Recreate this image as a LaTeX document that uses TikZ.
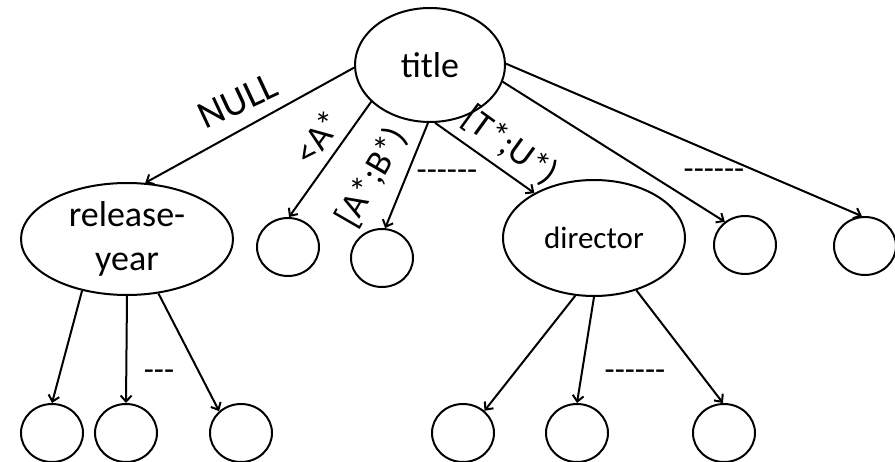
\documentclass[tikz,border=0pt]{standalone}
\usepackage{fontspec}
\setmainfont{Carlito}
\usetikzlibrary{shapes.geometric,arrows.meta}
\begin{document}
\begin{tikzpicture}[x=1pt,y=-1pt,
  every node/.style={inner sep=0pt},
  bigell/.style={draw,line width=2pt,ellipse,fill=white},
  leaf/.style={draw,line width=2pt,ellipse,minimum width=62pt,minimum height=58pt},
  conn/.style={line width=2pt,-{Straight Barb[length=6pt,width=11pt]}},
  lbl/.style={font=\fontsize{36}{40}\selectfont},
  dashlbl/.style={font=\fontsize{33}{36}\selectfont}]
\useasboundingbox (0,0) rectangle (895,462);
% main ellipses
\node[bigell,minimum width=150pt,minimum height=114pt,font=\fontsize{36}{40}\selectfont] (title) at (430,65) {title};
\node[bigell,minimum width=212pt,minimum height=112pt,align=center,font=\fontsize{36}{44}\selectfont] (ry) at (127,239) {release-\\year};
\node[bigell,minimum width=182pt,minimum height=116pt,font=\fontsize{31}{36}\selectfont] (dir) at (594,238) {director};
% level-1 leaves
\node[leaf] (c1) at (288,247) {};
\node[leaf] (c2) at (382,258) {};
\node[leaf] (c4) at (745,245) {};
\node[leaf] (c5) at (865,246) {};
% bottom leaves
\node[leaf] (b1) at (52,433) {};
\node[leaf] (b2) at (126,433) {};
\node[leaf] (b3) at (241,433) {};
\node[leaf] (d1) at (463,433) {};
\node[leaf] (d2) at (577,433) {};
\node[leaf] (d3) at (724,433) {};
% connectors from title
\draw[conn] (title.182) -- (ry.72);
\draw[conn] (title.212) -- (c1.88);
\draw[conn] (title.268) -- (c2.84);
\draw[conn] (title.275) -- (dir.143);
\draw[conn] (title.347) -- (c4.131);
\draw[conn] (title.1) -- (c5.96);
% from release-year
\draw[conn] (ry.229) -- (b1.90);
\draw[conn] (ry.270) -- (b2.90);
\draw[conn] (ry.300) -- (b3.135);
% from director
\draw[conn] (dir.252) -- (d1.46);
\draw[conn] (dir.270) -- (d2.90);
\draw[conn] (dir.309) -- (d3.92);
% labels
\node[lbl,rotate=25,font=\fontsize{39}{40}\selectfont] (lnull) at (238,101) {NULL};
\node[lbl,rotate=54] (la) at (318,137) {<A*};
\node[lbl,rotate=60] (lab) at (372,177) {[A*;B*)};
\node[lbl,rotate=-36] (ltu) at (510,146) {[T*;U*)};
\node[dashlbl] (dash1) at (447,175) {{-}{-}{-}{-}{-}{-}};
\node[dashlbl] (dash2) at (714,174) {{-}{-}{-}{-}{-}{-}};
\node[dashlbl] (dash3) at (159,375) {{-}{-}{-}};
\node[dashlbl] (dash4) at (635,375) {{-}{-}{-}{-}{-}{-}};
\end{tikzpicture}
\end{document}
